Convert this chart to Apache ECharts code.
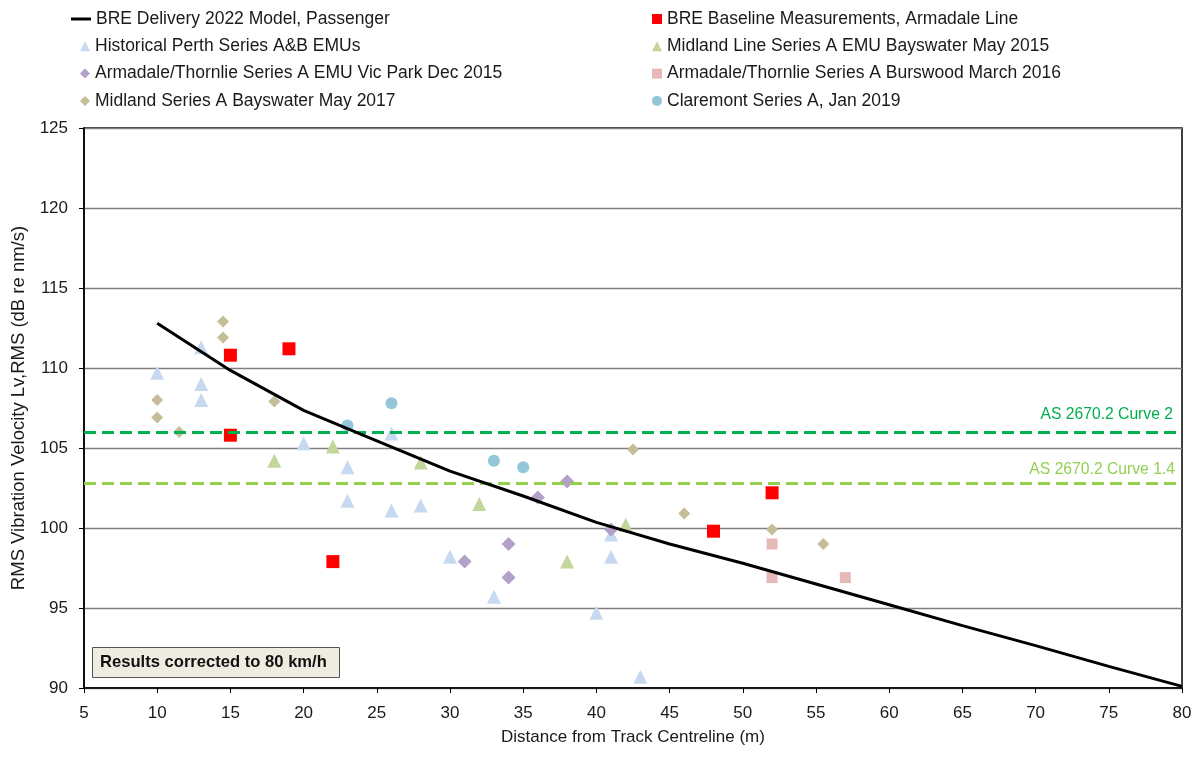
<!DOCTYPE html>
<html>
<head>
<meta charset="utf-8">
<script src="https://cdn.jsdelivr.net/npm/echarts@6/dist/echarts.min.js"></script>
<style>
  html, body { margin: 0; padding: 0; background: #fff; }
  #chart { width: 1201px; height: 758px; }
</style>
</head>
<body>
<div id="chart"></div>
<script>
// model curve
const modelDist = [10, 15, 20, 25, 30, 35, 40, 45, 50, 55, 60, 65, 70, 75, 80]
const modelLevel = [112.8, 109.85, 107.35, 105.45, 103.55, 102.0, 100.35, 99.0, 97.8, 96.5, 95.2, 93.9, 92.65, 91.35, 90.1]

// measurement sets [distance, level]
const breBaseline = [[15, 110.8], [19, 111.2], [15, 105.8], [22, 97.9], [48, 99.8], [52, 102.2]]
const historicalPerth = [
  [10, 109.7], [13, 111.3], [13, 109.0], [13, 108.0], [20, 105.3], [23, 103.8], [23, 101.7],
  [26, 105.9], [26, 101.1], [28, 101.4], [30, 98.2], [33, 95.7], [40, 94.7], [41, 99.6],
  [41, 98.2], [43, 90.7]
]
const midland2015 = [[18, 104.2], [22, 105.1], [28, 104.1], [32, 101.5], [38, 97.9], [42, 100.2]]
const vicPark2015 = [[31, 97.9], [34, 99.0], [34, 96.9], [36, 101.9], [38, 102.9], [41, 99.9]]
const burswood2016 = [[52, 99.0], [52, 96.9], [57, 96.9]]
const midland2017 = [
  [10, 108.0], [10, 106.9], [11.5, 106.0], [14.5, 112.9], [14.5, 111.9], [18, 107.9],
  [42.5, 104.9], [46, 100.9], [52, 99.9], [55.5, 99.0]
]
const claremont2019 = [[23, 106.4], [26, 107.8], [33, 104.2], [35, 103.8]]

// criteria lines
const curve2 = 106
const curve14 = 102.8

const names = {
  model: 'BRE Delivery 2022 Model, Passenger',
  baseline: 'BRE Baseline Measurements, Armadale Line',
  hist: 'Historical Perth Series A&B EMUs',
  mid15: 'Midland Line Series A EMU Bayswater May 2015',
  vic: 'Armadale/Thornlie Series A EMU Vic Park Dec 2015',
  burs: 'Armadale/Thornlie Series A Burswood March 2016',
  mid17: 'Midland Series A Bayswater May 2017',
  clar: 'Claremont Series A, Jan 2019'
}

const FONT = '"Liberation Sans", Arial, sans-serif'
const chart = echarts.init(document.getElementById('chart'))

function scatter(name, data, symbol, size, color) {
  return {
    name, type: 'scatter', data, symbol, symbolSize: size,
    itemStyle: { color, opacity: 1 }, z: 3
  }
}

const ROW = 27.3
const legendText = { fontSize: 17.5, color: '#1a1a1a', fontFamily: FONT, lineHeight: 18 }
function legendBlock(left, top, items, extra) {
  return Object.assign({
    orient: 'vertical', left, top, padding: 0,
    itemWidth: 10, itemHeight: 10, itemGap: ROW - 18,
    textStyle: legendText, selectedMode: false,
    data: items
  }, extra || {})
}

chart.setOption({
  animation: false,
  textStyle: { fontFamily: FONT },
  title: {
    text: 'Results corrected to 80 km/h',
    left: 92,
    top: 647,
    backgroundColor: '#EEECE1',
    borderColor: '#555',
    borderWidth: 1,
    padding: [6, 13, 6, 8],
    textStyle: { fontSize: 16.6, fontWeight: 'bold', color: '#111', fontFamily: FONT, lineHeight: 19 }
  },
  legend: [
    legendBlock(71, 10, [{ name: names.model, icon: 'rect' }], { itemWidth: 20, itemHeight: 3 }),
    legendBlock(80, 10 + ROW, [names.hist, names.vic, names.mid17]),
    legendBlock(652, 10, [names.baseline, names.mid15, names.burs, names.clar])
  ],
  grid: {
    left: 84, right: 19, top: 128, bottom: 70,
    show: true, borderColor: '#000', borderWidth: 1.5
  },
  xAxis: {
    type: 'value', min: 5, max: 80, interval: 5,
    name: 'Distance from Track Centreline (m)',
    nameLocation: 'middle', nameGap: 41,
    nameTextStyle: { fontSize: 17, color: '#1a1a1a' },
    axisLine: { show: true, lineStyle: { color: '#000', width: 1.5 } },
    axisTick: { show: true, inside: false, length: 5, lineStyle: { color: '#000' } },
    axisLabel: { fontSize: 17, color: '#1a1a1a', margin: 17 },
    splitLine: { show: false }
  },
  yAxis: {
    type: 'value', min: 90, max: 125, interval: 5,
    name: 'RMS Vibration Velocity Lv,RMS (dB re nm/s)',
    nameLocation: 'middle', nameGap: 52,
    nameTextStyle: { fontSize: 18.5, color: '#1a1a1a' },
    axisLine: { show: true, lineStyle: { color: '#000', width: 1.5 } },
    axisTick: { show: true, inside: false, length: 5, lineStyle: { color: '#000' } },
    axisLabel: { fontSize: 17, color: '#1a1a1a', margin: 16 },
    splitLine: { show: true, lineStyle: { color: '#7f7f7f', width: 1.3 } }
  },
  series: [
    {
      name: 'criteria', type: 'line', data: [], z: 1,
      markLine: {
        silent: true, symbol: 'none',
        data: [
          {
            yAxis: curve2,
            lineStyle: { color: '#00B050', width: 3, type: [12, 6] },
            label: { show: true, position: 'insideEndTop', formatter: 'AS 2670.2 Curve 2', color: '#00B050', fontSize: 15.7, distance: [9, 9] }
          },
          {
            yAxis: curve14,
            lineStyle: { color: '#92D050', width: 3, type: [12, 6] },
            label: { show: true, position: 'insideEndTop', formatter: 'AS 2670.2 Curve 1.4', color: '#92D050', fontSize: 15.7, distance: [7, 6] }
          }
        ]
      }
    },
    scatter(names.hist, historicalPerth, 'triangle', 14, '#C6D9F1'),
    scatter(names.mid15, midland2015, 'triangle', 14, '#C3D69B'),
    scatter(names.vic, vicPark2015, 'diamond', 14, '#B3A2C7'),
    scatter(names.burs, burswood2016, 'rect', 11, '#E6B9B8'),
    scatter(names.mid17, midland2017, 'diamond', 12, '#C4BD97'),
    scatter(names.clar, claremont2019, 'circle', 12, '#93C6D8'),
    scatter(names.baseline, breBaseline, 'rect', 13, '#FF0000'),
    {
      name: names.model, type: 'line', z: 5,
      data: modelDist.map((d, i) => [d, modelLevel[i]]),
      symbol: 'none', showSymbol: false,
      lineStyle: { color: '#000', width: 3 },
      itemStyle: { color: '#000' }
    }
  ]
})
</script>
</body>
</html>
